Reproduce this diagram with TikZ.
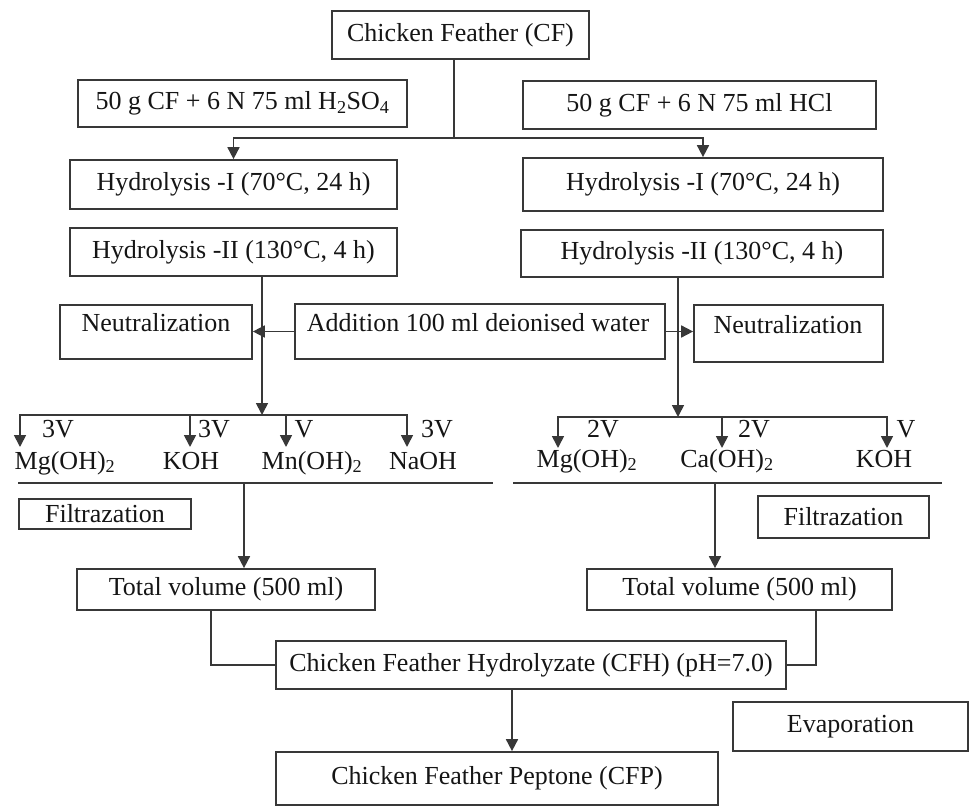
\documentclass[tikz,border=0pt]{standalone}
\usepackage{fontspec}
\setmainfont{Liberation Serif}
\usetikzlibrary{arrows.meta}
\definecolor{lncol}{HTML}{383838}
\definecolor{txcol}{HTML}{151515}
\newcommand\fs{\fontsize{26}{31}\selectfont}
\newcommand\bx[6]{\node[box, minimum width={(#4-#2)*1pt}, minimum height={(#5-#3)*1pt}] (#1) at ({(#2+#4)/2},{(#3+#5)/2}) {#6};}
\begin{document}
\begin{tikzpicture}[x=1pt,y=-1pt,
 box/.style={draw=lncol, line width=1.7pt, inner sep=0pt, text=txcol, font=\fs},
 txt/.style={inner sep=0pt, text=txcol, font=\fs},
 conn/.style={draw=lncol, line width=1.7pt},
 arr/.style={conn, -{Triangle[width=12pt,length=12pt]}}]
\useasboundingbox (0,0) rectangle (970,808);
% boxes
\bx{cf}{332}{11}{589}{59}{Chicken Feather (CF)}
\bx{hs}{78}{80}{407}{127}{50 g CF + 6 N 75 ml H\textsubscript{2}SO\textsubscript{4}}
\bx{hc}{523}{81}{876}{129}{50 g CF + 6 N 75 ml HCl}
\bx{hoL}{70}{160}{397}{209}{Hydrolysis -I (70°C, 24 h)}
\bx{hoR}{523}{158}{883}{211}{Hydrolysis -I (70°C, 24 h)}
\bx{htL}{70}{228}{397}{276}{Hydrolysis -II (130°C, 4 h)}
\bx{htR}{521}{230}{883}{277}{Hydrolysis -II (130°C, 4 h)}
\bx{neL}{60}{305}{252}{359}{}
\node[txt] (neLt) at (156,323) {Neutralization};
\bx{add}{295}{304}{665}{359}{}
\node[txt] (addt) at (478,323) {Addition 100 ml deionised water};
\bx{neR}{694}{305}{883}{362}{}
\node[txt] (neRt) at (788,325) {Neutralization};
\bx{fiL}{19}{499}{191}{529}{Filtrazation}
\bx{fiR}{758}{496}{929}{538}{Filtrazation}
\bx{tvL}{77}{569}{375}{610}{Total volume (500 ml)}
\bx{tvR}{587}{569}{892}{610}{Total volume (500 ml)}
\bx{cfh}{276}{641}{786}{689}{Chicken Feather Hydrolyzate (CFH) (pH=7.0)}
\bx{ev}{733}{702}{968}{751}{Evaporation}
\bx{cfp}{276}{752}{718}{805}{Chicken Feather Peptone (CFP)}
% chemicals and volumes
\node[txt, anchor=base] (mgL) at (65,469) {Mg(OH)\textsubscript{2}};
\node[txt, anchor=base] (kohL) at (191,469) {KOH};
\node[txt, anchor=base] (mnL) at (312,469) {Mn(OH)\textsubscript{2}};
\node[txt, anchor=base] (naL) at (423,469) {NaOH};
\node[txt, anchor=base] (v1) at (58,437) {3V};
\node[txt, anchor=base] (v2) at (214,437) {3V};
\node[txt, anchor=base] (v3) at (304,437) {V};
\node[txt, anchor=base] (v4) at (437,437) {3V};
\node[txt, anchor=base] (mgR) at (587,467) {Mg(OH)\textsubscript{2}};
\node[txt, anchor=base] (caR) at (727,467) {Ca(OH)\textsubscript{2}};
\node[txt, anchor=base] (kohR) at (884,467) {KOH};
\node[txt, anchor=base] (w1) at (603,437) {2V};
\node[txt, anchor=base] (w2) at (754,437) {2V};
\node[txt, anchor=base] (w3) at (906,437) {V};
% coordinates
\coordinate (j1) at (454,138);
\coordinate (dL) at (262,415);
\coordinate (dR) at (678,417);
\coordinate (lb1) at (20,447);
\coordinate (la2) at (190,415);
\coordinate (lb2) at (190,447);
\coordinate (la3) at (286,415);
\coordinate (lb3) at (286,447);
\coordinate (lb4) at (407,447);
\coordinate (rb1) at (558,448);
\coordinate (ra2) at (722,417);
\coordinate (rb2) at (722,448);
\coordinate (rb3) at (887,448);
\coordinate (s1) at (18,483);
\coordinate (s2) at (493,483);
\coordinate (s3) at (513,483);
\coordinate (s4) at (942,483);
\coordinate (fL) at (244,483);
\coordinate (fR) at (715,483);
\coordinate (cL) at (211,663);
\coordinate (cR) at (816,661);
\coordinate (cc) at (512,700);
% connectors
\draw[conn] (j1 |- cf.south) -- (j1);
\draw[arr] (j1) -| (hoL.north);
\draw[arr] (j1) -| (hoR.north);
\draw[arr] (dL |- htL.south) -- (dL);
\draw[arr] (dR |- htR.south) -- (dR);
\draw[arr] (add.west) -- (add.west -| neL.east);
\draw[arr] (add.east) -- (add.east -| neR.west);
\draw[arr] (dL) -| (lb1);
\draw[arr] (dL) -| (lb4);
\draw[arr] (la2) -- (lb2);
\draw[arr] (la3) -- (lb3);
\draw[arr] (dR) -| (rb1);
\draw[arr] (dR) -| (rb3);
\draw[arr] (ra2) -- (rb2);
\draw[conn] (s1) -- (s2);
\draw[conn] (s3) -- (s4);
\draw[arr] (fL) -- (fL |- tvL.north);
\draw[arr] (fR) -- (fR |- tvR.north);
\draw[conn] (cL |- tvL.south) |- (cfh.west);
\draw[conn] (cR |- tvR.south) |- (cfh.east);
\draw[arr] (cc |- cfh.south) -- (cc |- cfp.north);
\end{tikzpicture}
\end{document}
